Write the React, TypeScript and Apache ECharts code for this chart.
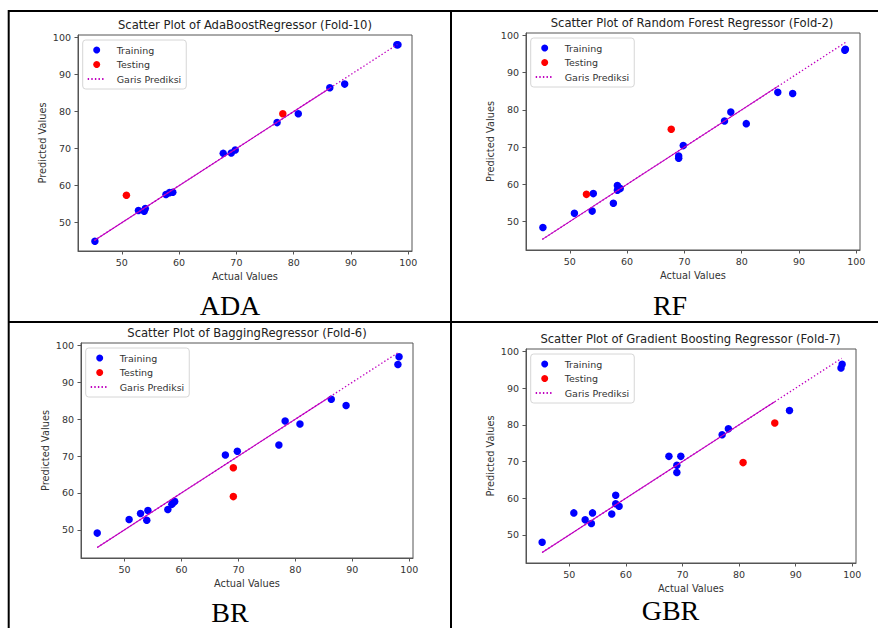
import React, { useEffect, useRef } from "react";
import * as echarts from "echarts";

// ---------- data ----------
const panelTitles = [
  "Scatter Plot of AdaBoostRegressor (Fold-10)",
  "Scatter Plot of Random Forest Regressor (Fold-2)",
  "Scatter Plot of BaggingRegressor (Fold-6)",
  "Scatter Plot of Gradient Boosting Regressor (Fold-7)",
];
const captions = ["ADA", "RF", "BR", "GBR"];
const tickValues = [50, 60, 70, 80, 90, 100];
const xAxisName = "Actual Values";
const yAxisName = "Predicted Values";
const legendNames = ["Training", "Testing", "Garis Prediksi"];

const adaTraining = [
  [45.3, 45.0], [52.9, 53.3], [53.9, 53.1], [54.1, 53.8], [57.7, 57.6], [58.3, 58.1],
  [58.9, 58.2], [67.7, 68.7], [69.1, 68.8], [69.8, 69.6], [77.1, 77.0], [80.8, 79.4],
  [86.3, 86.4], [88.9, 87.4], [98.0, 98.0], [98.2, 98.0],
];
const adaTesting = [[50.8, 57.4], [78.1, 79.4]];

const rfTraining = [
  [45.3, 48.4], [50.8, 52.2], [53.9, 52.8], [54.1, 57.5], [57.6, 54.9], [58.3, 59.7],
  [58.3, 58.4], [58.8, 58.9], [69.0, 67.0], [69.0, 67.6], [69.8, 70.4], [77.0, 77.0],
  [78.1, 79.4], [80.8, 76.3], [86.3, 84.7], [88.9, 84.4], [98.0, 96.0], [98.1, 96.3],
];
const rfTesting = [[52.9, 57.3], [67.7, 74.8]];

const brTraining = [
  [45.2, 49.1], [50.8, 52.8], [52.8, 54.4], [54.1, 55.2], [53.9, 52.6], [57.6, 55.5],
  [58.3, 56.9], [58.8, 57.7], [58.5, 57.3], [67.7, 70.3], [69.8, 71.3], [77.1, 73.0],
  [78.2, 79.5], [80.8, 78.7], [86.3, 85.4], [88.9, 83.7], [98.0, 94.8], [98.2, 96.9],
];
const brTesting = [[69.1, 66.8], [69.1, 59.0]];

const gbrTraining = [
  [45.2, 48.0], [50.8, 56.0], [52.8, 54.1], [54.1, 56.0], [53.9, 53.1], [57.5, 55.7],
  [58.2, 60.8], [58.2, 58.5], [58.8, 57.8], [67.6, 71.4], [69.0, 69.0], [69.0, 67.0],
  [69.7, 71.4], [77.0, 77.3], [78.1, 78.9], [88.9, 83.9], [98.0, 95.5], [98.2, 96.5],
];
const gbrTesting = [[80.7, 69.7], [86.3, 80.5]];

// prediction line y = x
const predLine = [[45.2, 45.2], [98.1, 98.1]];
const predLineOverlap = [[45.2, 45.2], [86.3, 86.3]];
const axisMin = 42.35;
const axisMax = 100.65;

const trainingSets = [adaTraining, rfTraining, brTraining, gbrTraining];
const testingSets = [adaTesting, rfTesting, brTesting, gbrTesting];

// ---------- layout ----------
const grids = [
  { left: 78, top: 35, width: 334, height: 216 },
  { left: 526, top: 33, width: 334, height: 217 },
  { left: 81, top: 343, width: 332, height: 215 },
  { left: 526, top: 349, width: 330, height: 214 },
];
const titlePos = [[245, 25], [692, 22.7], [247, 333], [690.5, 338.7]];
const captionPos = [[230, 305], [670, 305], [230, 612.5], [670.5, 610.5]];

const SANS = "'DejaVu Sans', 'Noto Sans', sans-serif";
const SERIF = "'Times New Roman', 'Liberation Serif', serif";
const SPINE = "#555";
const TXT = "#333";
const MAGENTA = "#bf00bf";

export default function App() {
  const ref = useRef<HTMLDivElement>(null);
  useEffect(() => {
    if (!ref.current) return;
    const chart = echarts.init(ref.current, null, { renderer: "svg" });

    const xAxes = grids.map((_, i) => ({
      gridIndex: i,
      type: "value",
      min: axisMin,
      max: axisMax,
      axisLine: { show: true, lineStyle: { color: SPINE, width: 1 } },
      axisTick: { show: true, length: 3.5, customValues: tickValues, lineStyle: { color: SPINE } },
      axisLabel: { customValues: tickValues, margin: 6, fontSize: 9.5, color: TXT, fontFamily: SANS },
      splitLine: { show: false },
      name: xAxisName,
      nameLocation: "middle",
      nameGap: 20,
      nameTextStyle: { fontSize: 9.8, color: TXT, fontFamily: SANS },
    }));
    const yAxes = grids.map((_, i) => ({
      gridIndex: i,
      type: "value",
      min: axisMin,
      max: axisMax,
      axisLine: { show: true, lineStyle: { color: SPINE, width: 1 } },
      axisTick: { show: true, length: 3.5, customValues: tickValues, lineStyle: { color: SPINE } },
      axisLabel: { customValues: tickValues, margin: 7, fontSize: 9.5, color: TXT, fontFamily: SANS },
      splitLine: { show: false },
      name: yAxisName,
      nameLocation: "middle",
      nameRotate: 90,
      nameGap: 31,
      nameTextStyle: { fontSize: 9.8, color: TXT, fontFamily: SANS },
    }));

    const series: any[] = [];
    grids.forEach((_, i) => {
      series.push({
        type: "scatter",
        name: legendNames[0],
        xAxisIndex: i,
        yAxisIndex: i,
        data: trainingSets[i],
        symbol: "circle",
        symbolSize: 7.5,
        itemStyle: { color: "#0000ff", opacity: 1 },
      });
      series.push({
        type: "scatter",
        name: legendNames[1],
        xAxisIndex: i,
        yAxisIndex: i,
        data: testingSets[i],
        symbol: "circle",
        symbolSize: 7.5,
        itemStyle: { color: "#ff0000", opacity: 1 },
      });
      series.push({
        type: "line",
        name: "overlap",
        xAxisIndex: i,
        yAxisIndex: i,
        data: predLineOverlap,
        symbol: "none",
        lineStyle: { color: MAGENTA, width: 1.1, type: "solid" },
        itemStyle: { color: MAGENTA },
      });
      series.push({
        type: "line",
        name: legendNames[2],
        xAxisIndex: i,
        yAxisIndex: i,
        data: predLine,
        symbol: "none",
        lineStyle: { color: MAGENTA, width: 1.3, type: [1.4, 2.2] },
        itemStyle: { color: MAGENTA },
      });
    });

    const legends = grids.map((g) => ({
      orient: "vertical",
      left: g.left + 4.7,
      top: g.top + 5,
      data: [
        legendNames[0],
        legendNames[1],
        { name: legendNames[2], itemStyle: { opacity: 0 } },
      ],
      itemWidth: 18,
      itemHeight: 7,
      itemGap: 2.5,
      padding: [4, 5, 4, 4],
      backgroundColor: "#ffffff",
      borderColor: "#d6d6d6",
      borderWidth: 1,
      borderRadius: 3,
      selectedMode: false,
      lineStyle: { type: "inherit" },
      textStyle: { fontSize: 9.5, color: TXT, fontFamily: SANS, lineHeight: 12, padding: [0, 0, 0, 6] },
    }));

    const titles = panelTitles.map((t, i) => ({
      text: t,
      left: titlePos[i][0],
      top: titlePos[i][1],
      textAlign: "center",
      textVerticalAlign: "middle",
      padding: 0,
      textStyle: { fontSize: 11.6, fontWeight: "normal", color: "#222", fontFamily: SANS },
    }));

    const tableLines = [
      { x1: 8, y1: 11, x2: 878, y2: 11 },
      { x1: 8.7, y1: 10, x2: 8.7, y2: 628 },
      { x1: 451, y1: 10, x2: 451, y2: 628 },
      { x1: 8, y1: 322, x2: 878, y2: 322 },
    ];

    const graphic: any[] = [
      ...tableLines.map((s) => ({
        type: "line",
        shape: s,
        style: { stroke: "#000", lineWidth: 2 },
        silent: true,
        z: 100,
      })),
      ...captions.map((c, i) => ({
        type: "text",
        x: captionPos[i][0],
        y: captionPos[i][1],
        style: {
          text: c,
          fontSize: 28,
          fontFamily: SERIF,
          fill: "#000",
          textAlign: "center",
          textVerticalAlign: "middle",
        },
        silent: true,
      })),
    ];

    chart.setOption({
      animation: false,
      backgroundColor: "#ffffff",
      title: titles,
      legend: legends,
      grid: grids.map((g) => ({
        ...g,
        show: true,
        borderColor: SPINE,
        borderWidth: 1,
        backgroundColor: "transparent",
        containLabel: false,
      })),
      xAxis: xAxes,
      yAxis: yAxes,
      series,
      graphic,
    });
    return () => chart.dispose();
  }, []);

  return (
    <div
      ref={ref}
      style={{ position: "fixed", left: 0, top: 0, width: 878, height: 628, background: "#fff" }}
    />
  );
}
